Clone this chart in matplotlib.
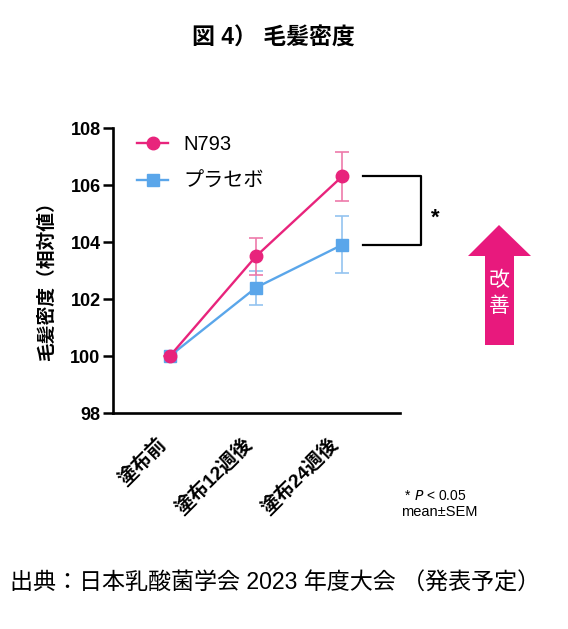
import matplotlib
matplotlib.use('Agg')
import matplotlib.pyplot as plt
from matplotlib.patches import Polygon

plt.rcParams['font.family'] = ['Liberation Sans', 'Noto Sans CJK JP', 'DejaVu Sans']

# data
timepoints = ['塗布前', '塗布12週後', '塗布24週後']
n793 = [100.0, 103.5, 106.3]
n793_sem = [0.0, 0.65, 0.85]
placebo = [100.0, 102.4, 103.9]
placebo_sem = [0.0, 0.6, 1.0]
yticks = [98, 100, 102, 104, 106, 108]

pink = '#E8247C'
pink_light = '#EE7AAA'
blue = '#5AA6EA'
blue_light = '#93C3F0'

fig = plt.figure(figsize=(5.68, 6.29), dpi=100)
ax = fig.add_axes([0.199, 0.3434, 0.505, 0.4531])

x = list(range(len(timepoints)))
eb_p = ax.errorbar(x, placebo, yerr=placebo_sem, color=blue, ecolor=blue_light,
                   elinewidth=1.2, capsize=5, capthick=1.2, linewidth=1.7,
                   marker='s', markersize=8.5, zorder=3)
eb_n = ax.errorbar(x, n793, yerr=n793_sem, color=pink, ecolor=pink_light,
                   elinewidth=1.2, capsize=5, capthick=1.2, linewidth=1.7,
                   marker='o', markersize=9, zorder=4)

ax.set_xlim(-0.66, 2.67)
ax.set_ylim(98, 108)
ax.set_yticks(yticks)
ax.set_yticklabels([str(t) for t in yticks], fontsize=13, fontweight='bold')
ax.set_xticks(x)
ax.set_xticklabels(timepoints, rotation=45, ha='right', va='bottom',
                   rotation_mode='anchor', fontsize=14, fontweight='bold')
ax.tick_params(axis='x', length=0, pad=25)
ax.tick_params(axis='y', length=7, width=1.8, pad=2)
for s in ['top', 'right']:
    ax.spines[s].set_visible(False)
for s in ['left', 'bottom']:
    ax.spines[s].set_linewidth(1.9)
ax.set_ylabel('毛髪密度（相対値）', fontsize=13.5, fontweight='bold')
ax.yaxis.set_label_coords(-0.198, 0.48)

ax.legend([eb_n[0], eb_p[0]], ['N793', 'プラセボ'], loc='upper left',
          bbox_to_anchor=(0.085, 0.975), frameon=False, fontsize=14.5,
          handlelength=1.5, handletextpad=0.8, labelspacing=0.9,
          borderpad=0, borderaxespad=0)

# significance bracket
bx0, bx1 = 2.24, 2.91
ax.plot([bx0, bx1, bx1, bx0], [n793[2], n793[2], placebo[2], placebo[2]],
        color='black', linewidth=1.6, clip_on=False)
ax.text(3.08, 104.85, '*', fontsize=16, fontweight='bold', ha='center', va='center')

# improvement arrow
arrow = Polygon([(499/568, 1-225/629), (531/568, 1-256/629), (514/568, 1-256/629),
                 (514/568, 1-345/629), (485/568, 1-345/629), (485/568, 1-256/629),
                 (468/568, 1-256/629)], closed=True, transform=fig.transFigure,
                facecolor='#E8197D', edgecolor='none')
fig.patches.append(arrow)
fig.text(499/568, 1-280/629, '改', color='white', fontsize=15, ha='center', va='center')
fig.text(499/568, 1-306/629, '善', color='white', fontsize=15, ha='center', va='center')

# notes
fig.text(414/568, 1-496/629, '* ', fontsize=10, ha='right', va='center')
fig.text(414/568, 1-496/629, '$\\it{P}$ < 0.05', fontsize=10, ha='left', va='center')
fig.text(439/568, 1-512/629, 'mean±SEM', fontsize=10.5, ha='center', va='center')

fig.text(273/568, 1-38/629, '図 4） 毛髪密度', fontsize=16.5, fontweight='bold',
         ha='center', va='center')
fig.text(10/568, 1-583/629, '出典：日本乳酸菌学会 2023 年度大会 （発表予定）',
         fontsize=16.6, ha='left', va='center')

fig.savefig('out.png', dpi=100)
